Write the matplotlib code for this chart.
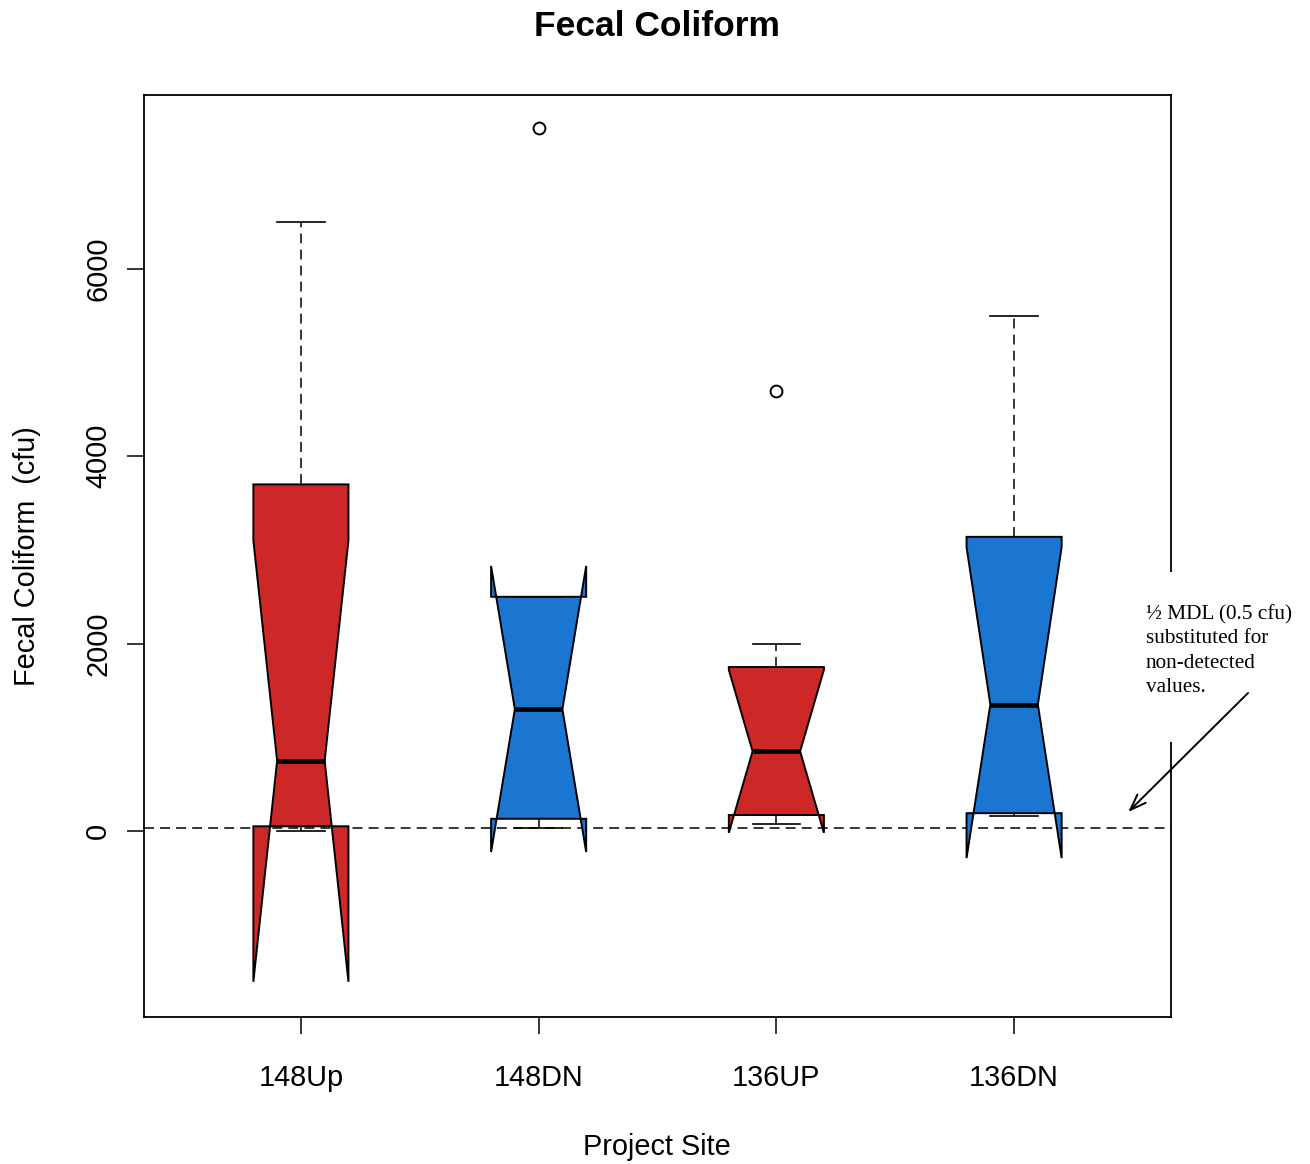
import numpy as np
import matplotlib
matplotlib.use("Agg")
import matplotlib.pyplot as plt
from matplotlib.patches import Rectangle

# data (cfu)
sites = ["148Up", "148DN", "136UP", "136DN"]
whis_lo = [0.5, 30, 75, 160]
q1 = [50, 130, 170, 190]
med = [750, 1300, 850, 1350]
q3 = [3700, 2500, 1750, 3140]
whis_hi = [6500, 2500, 2000, 5500]
notch_lo = [-1610, -225, -20, -290]
notch_hi = [3100, 2830, 1720, 3030]
outliers = [[], [7500], [4700], []]
mdl_line = 35
box_colors = ["#CC2828", "#1A76D0", "#CC2828", "#1A76D0"]

plt.rcParams['font.family'] = ['Liberation Sans', 'DejaVu Sans']

fig = plt.figure(figsize=(13.1, 11.64), dpi=100)
ax = fig.add_axes([144/1310, 1-1017/1164, 1027/1310, 922/1164])

stats = []
for i in range(len(sites)):
    stats.append(dict(med=med[i], q1=q1[i], q3=q3[i], whislo=whis_lo[i], whishi=whis_hi[i],
                      cilo=notch_lo[i], cihi=notch_hi[i], fliers=outliers[i], label=sites[i]))

dash = (0, (6.5, 4))
bp = ax.bxp(stats, positions=[1, 2, 3, 4], widths=0.4, shownotches=True, patch_artist=True,
            boxprops=dict(linewidth=1.4, edgecolor='black'),
            medianprops=dict(color='black', linewidth=3.4, solid_capstyle='butt'),
            whiskerprops=dict(color='black', linewidth=1.1, linestyle=dash),
            capprops=dict(color='black', linewidth=1.2),
            flierprops=dict(marker='o', markerfacecolor='none', markeredgecolor='black',
                            markersize=8.5, markeredgewidth=1.4))
for patch, c in zip(bp['boxes'], box_colors):
    patch.set_facecolor(c)

ax.axhline(mdl_line, color='black', linewidth=1.1, linestyle=dash, zorder=1)

ax.set_xlim(0.34, 4.66)
ax.set_ylim(-1986, 7857)
ax.set_yticks([0, 2000, 4000, 6000])
ax.set_xticks([1, 2, 3, 4])
ax.set_xticklabels(sites)
ax.tick_params(axis='both', direction='out', length=12, width=1.1, labelsize=20.8)
ax.tick_params(axis='x', pad=22)
ax.tick_params(axis='y', pad=11)
plt.setp(ax.get_yticklabels(), rotation=90, va='center')
for s in ax.spines.values():
    s.set_linewidth(1.3)

# white patch behind the note, covering the right frame
ax.add_patch(Rectangle((1140/1310, 1-742/1164), 165/1310, 170/1164, transform=fig.transFigure,
                       facecolor='white', edgecolor='none', zorder=3, clip_on=False))
ax.text(4.555, 2412, "½ MDL (0.5 cfu)\nsubstituted for\nnon-detected\nvalues.",
        family=['Liberation Serif', 'DejaVu Serif'], fontsize=15.3, linespacing=1.36,
        ha='left', va='top', zorder=4, clip_on=False)
ax.annotate("", xy=(4.48, 203), xytext=(4.984, 1473), zorder=5, annotation_clip=False,
            arrowprops=dict(arrowstyle='->,head_length=1.15,head_width=0.42', color='black',
                            linewidth=1.4, shrinkA=0, shrinkB=0))

fig.text(657/1310, 1-27/1164, "Fecal Coliform", fontsize=25.5, fontweight='bold',
         ha='center', va='center')
fig.text(657/1310, 1-1147/1164, "Project Site", fontsize=20.8, ha='center', va='center')
fig.text(27/1310, 1-556/1164, "Fecal Coliform  (cfu)", fontsize=20.8, rotation=90,
         ha='center', va='center')

fig.savefig("out.png", dpi=100)
